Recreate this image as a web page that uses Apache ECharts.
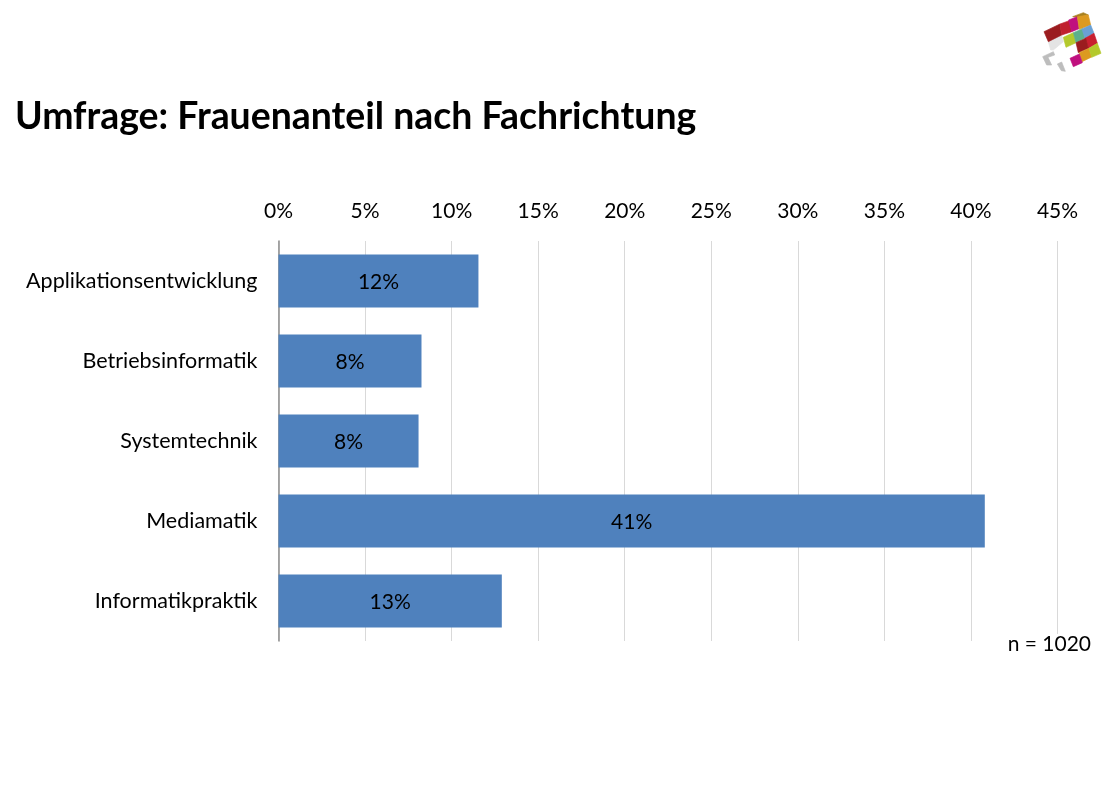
<!DOCTYPE html>
<html lang="de">
<head>
<meta charset="utf-8">
<title>Umfrage: Frauenanteil nach Fachrichtung</title>
<style>
    html, body { margin: 0; padding: 0; background: #fff; }
    #chart { width: 1118px; height: 797px; }
</style>
<script src="https://cdn.jsdelivr.net/npm/echarts@6/dist/echarts.min.js"></script>
</head>
<body>
<div id="chart"></div>
<script>
/*
|--------------------------------------------------------------------------
| Data
|--------------------------------------------------------------------------
*/

const categories = ['Applikationsentwicklung', 'Betriebsinformatik', 'Systemtechnik', 'Mediamatik', 'Informatikpraktik'];
const shares = [11.55, 8.26, 8.09, 40.8, 12.9];

/*
|--------------------------------------------------------------------------
| Logo (decoration, polygons in 3x zoom coordinates)
|--------------------------------------------------------------------------
*/

const logoPolygons = [
    ['#e4e4e4', [[85, 125], [125, 105], [130, 125], [100, 150], [92, 150]]],
    ['#bdbdbd', [[68, 170], [100, 155], [104, 165], [84, 172], [95, 195], [80, 195]]],
    ['#bdbdbd', [[112, 192], [125, 186], [136, 214], [124, 212]]],
    ['#a8811f', [[158, 50], [190, 38], [205, 45], [172, 52]]],
    ['#9b1c1f', [[72, 95], [120, 72], [125, 105], [85, 125]]],
    ['#c01f2e', [[120, 72], [148, 62], [155, 95], [125, 105]]],
    ['#c0107e', [[146, 60], [172, 50], [177, 86], [155, 95]]],
    ['#dc9a20', [[172, 50], [205, 45], [212, 75], [178, 88]]],
    ['#b4c92c', [[130, 112], [160, 98], [168, 128], [138, 142]]],
    ['#5cb08c', [[160, 98], [188, 86], [195, 114], [168, 128]]],
    ['#6aa0d4', [[186, 87], [212, 75], [222, 100], [195, 115]]],
    ['#c82030', [[195, 115], [222, 100], [232, 130], [205, 145]]],
    ['#9b1c1f', [[168, 128], [197, 115], [205, 145], [175, 158]]],
    ['#dc9a20', [[178, 158], [207, 145], [215, 171], [186, 185]]],
    ['#b4c92c', [[207, 145], [232, 130], [243, 160], [215, 172]]],
    ['#c0107e', [[150, 175], [178, 162], [187, 188], [160, 200]]],
];

/*
|--------------------------------------------------------------------------
| Chart
|--------------------------------------------------------------------------
*/

const fontFamily = 'Lato, "Open Sans", sans-serif';
const chart = echarts.init(document.getElementById('chart'), null, { renderer: 'canvas' });

chart.setOption({
    animation: false,
    backgroundColor: '#fff',
    textStyle: { fontFamily, color: '#000' },
    title: {
        text: 'Umfrage: Frauenanteil nach Fachrichtung',
        left: 10,
        top: 93,
        textStyle: { fontFamily, fontSize: 37.4, fontWeight: 'bold', color: '#000' },
    },
    grid: { left: 278.5, top: 241, width: 779, height: 400, containLabel: false },
    xAxis: {
        type: 'value',
        position: 'top',
        min: 0,
        max: 45,
        interval: 5,
        axisLine: { show: false },
        axisTick: { show: false },
        axisLabel: { formatter: '{value}%', fontSize: 21, fontFamily, color: '#000', margin: 19, hideOverlap: false },
        splitLine: { show: true, lineStyle: { color: '#d9d9d9', width: 1 } },
    },
    yAxis: {
        type: 'category',
        inverse: true,
        data: categories,
        axisLine: { show: true, lineStyle: { color: '#8c8c8c', width: 1.5 } },
        axisTick: { show: false },
        axisLabel: { fontSize: 21.5, fontFamily, color: '#000', margin: 21, padding: [2, 0, 0, 0] },
    },
    series: [{
        type: 'bar',
        data: shares,
        barWidth: 53,
        itemStyle: { color: '#4f81bd' },
        label: {
            show: true,
            position: 'inside',
            offset: [0, 1],
            fontSize: 21,
            fontFamily,
            color: '#000',
            formatter: ({ value }) => `${Math.round(value)}%`,
        },
    }],
    graphic: [
        {
            type: 'text',
            right: 27,
            top: 634,
            z: 10,
            style: { text: 'n = 1020', font: `21px ${fontFamily}`, fill: '#000', backgroundColor: '#fff' },
        },
        {
            type: 'group',
            x: 1020,
            y: 0,
            scaleX: 1 / 3,
            scaleY: 1 / 3,
            children: logoPolygons.map(([fill, points]) => ({
                type: 'polygon',
                shape: { points },
                style: { fill, stroke: fill, lineWidth: 2 },
            })),
        },
    ],
});
</script>
</body>
</html>
